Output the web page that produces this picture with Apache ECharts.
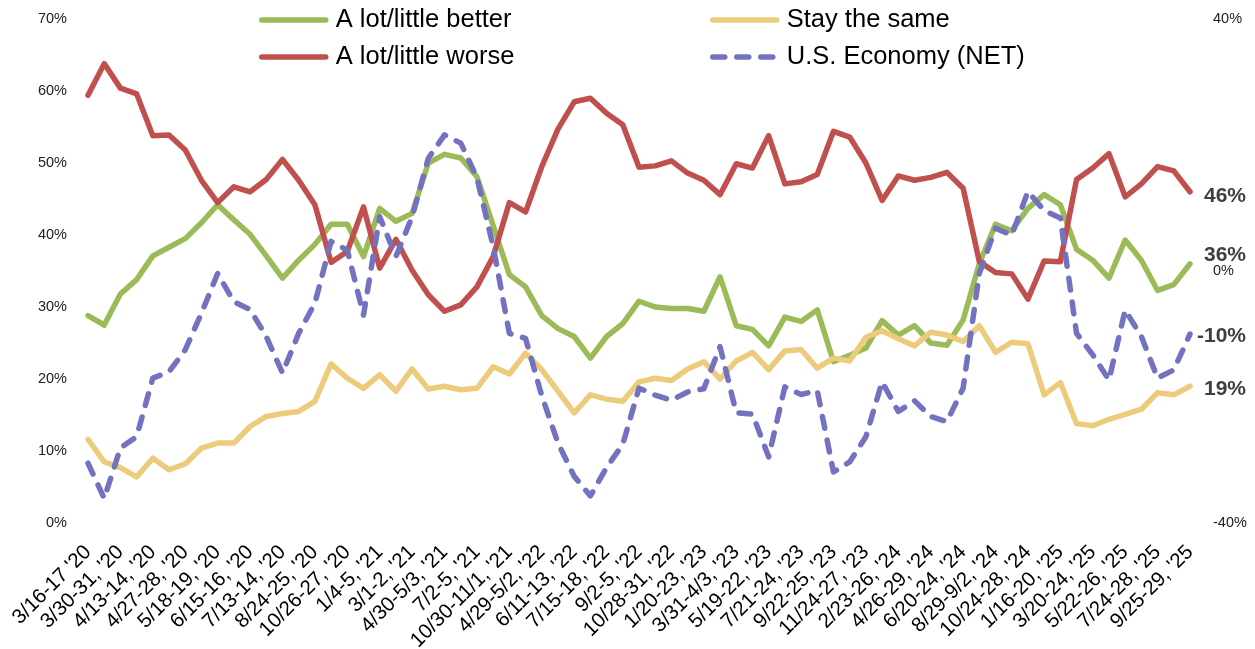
<!DOCTYPE html>
<html>
<head>
<meta charset="utf-8">
<script src="https://cdn.jsdelivr.net/npm/echarts@6/dist/echarts.min.js"></script>
<style>
  html, body { margin: 0; padding: 0; background: #ffffff; }
  #chart { width: 1255px; height: 649px; }
</style>
</head>
<body>
<div id="chart"></div>
<script>
// Survey wave labels (every other wave is labelled on the axis)
const tickLabels = [
  "3/16-17 '20", "3/30-31, '20", "4/13-14, '20", "4/27-28, '20", "5/18-19, '20",
  "6/15-16, '20", "7/13-14, '20", "8/24-25, '20", "10/26-27, '20", "1/4-5, '21",
  "3/1-2, '21", "4/30-5/3, '21", "7/2-5, '21", "10/30-11/1, '21", "4/29-5/2, '22",
  "6/11-13, '22", "7/15-18, '22", "9/2-5, '22", "10/28-31, '22", "1/20-23, '23",
  "3/31-4/3, '23", "5/19-22, '23", "7/21-24, '23", "9/22-25, '23", "11/24-27, '23",
  "2/23-26, '24", "4/26-29, '24", "6/20-24, '24", "8/29-9/2, '24", "10/24-28, '24",
  "1/16-20, '25", "3/20-24, '25", "5/22-26, '25", "7/24-28, '25", "9/25-29, '25"
];

// Share saying the economy will get a lot/little better (%)
const better = [
  28.8, 27.5, 31.8, 33.8, 37.1, 38.3, 39.5, 41.7, 44.2, 42.1,
  40.1, 37.1, 34.0, 36.5, 38.7, 41.5, 41.5, 37.0, 43.7, 41.9,
  43.0, 50.0, 51.2, 50.7, 48.1, 41.3, 34.5, 32.8, 28.8, 27.0,
  25.9, 22.9, 25.9, 27.7, 30.8, 30.0, 29.8, 29.8, 29.4, 34.2,
  27.4, 26.9, 24.6, 28.6, 28.0, 29.6, 22.4, 23.3, 24.3, 28.1,
  26.1, 27.4, 25.0, 24.7, 28.2, 36.0, 41.5, 40.6, 43.7, 45.6,
  44.2, 38.0, 36.5, 34.0, 39.3, 36.5, 32.3, 33.1, 36
];

// Share saying it will get a lot/little worse (%)
const worse = [
  59.4, 63.8, 60.4, 59.6, 53.8, 53.9, 51.8, 47.6, 44.5, 46.7,
  46.0, 47.7, 50.5, 47.6, 44.2, 36.2, 37.7, 43.9, 35.4, 39.4,
  35.1, 31.7, 29.4, 30.3, 32.8, 37.0, 44.5, 43.2, 49.5, 54.7,
  58.5, 59.0, 56.9, 55.3, 49.4, 49.6, 50.3, 48.6, 47.6, 45.6,
  49.9, 49.3, 53.8, 47.1, 47.4, 48.4, 54.4, 53.6, 50.0, 44.8,
  48.2, 47.6, 48.0, 48.7, 46.5, 36.3, 34.8, 34.6, 31.1, 36.4,
  36.3, 47.7, 49.3, 51.3, 45.3, 47.1, 49.5, 48.9, 46
];

// Share saying it will stay the same (%)
const same = [
  11.6, 8.5, 7.7, 6.4, 9.0, 7.4, 8.2, 10.4, 11.1, 11.1,
  13.4, 14.8, 15.2, 15.5, 16.9, 22.1, 20.1, 18.7, 20.6, 18.3,
  21.4, 18.6, 19.0, 18.5, 18.7, 21.7, 20.7, 23.6, 21.3, 18.3,
  15.3, 17.8, 17.2, 16.9, 19.6, 20.1, 19.8, 21.4, 22.4, 20.0,
  22.5, 23.7, 21.3, 23.9, 24.1, 21.5, 22.9, 22.5, 25.8, 26.7,
  25.6, 24.6, 26.5, 26.1, 25.2, 27.4, 23.7, 25.1, 24.9, 17.8,
  19.5, 13.8, 13.5, 14.4, 15.1, 15.8, 18.1, 17.8, 19
];

// Net outlook for the U.S. economy (right axis, %)
const net = [
  -30.5, -36.1, -28.1, -26.3, -17.0, -16.0, -12.5, -6.7, -0.4, -4.9,
  -6.1, -10.4, -16.2, -9.9, -5.1, 4.7, 3.3, -7.0, 8.6, 2.3,
  8.6, 17.9, 21.6, 20.3, 14.8, 3.9, -9.9, -10.7, -19.8, -27.3,
  -32.6, -35.7, -31.2, -27.5, -18.6, -19.7, -20.5, -19.2, -18.7, -12.0,
  -22.5, -22.7, -29.5, -18.4, -19.6, -19.0, -31.9, -30.3, -26.3, -17.6,
  -22.3, -20.6, -23.1, -23.9, -18.6, -0.4, 6.8, 5.7, 12.6, 9.6,
  8.4, -9.9, -13.3, -17.3, -6.2, -10.4, -17.0, -15.7, -10
];

// One category per wave; unlabelled waves get an empty name
const categories = better.map((_, i) => (i % 2 === 0 ? tickLabels[i / 2] : ''));

const FONT = '"Liberation Sans", Arial, Helvetica, sans-serif';

function lineSeries(name, data, color, yAxisIndex, dashed, labelDist, labelPad) {
  return {
    name: name,
    type: 'line',
    data: data,
    yAxisIndex: yAxisIndex,
    symbol: 'none',
    showSymbol: false,
    smooth: false,
    lineStyle: {
      color: color,
      width: 5.5,
      type: dashed ? [12, 12] : 'solid',
      cap: 'round',
      join: 'round'
    },
    itemStyle: { color: color },
    emphasis: { disabled: true },
    endLabel: {
      show: true,
      distance: labelDist,
      formatter: function (p) { return '{v|' + p.value + '%}'; },
      rich: {
        v: {
          fontFamily: FONT,
          fontSize: 21,
          fontWeight: 'bold',
          color: '#3f3f3f',
          padding: labelPad
        }
      }
    }
  };
}

const legendCommon = {
  orient: 'vertical',
  itemWidth: 64,
  itemHeight: 25,
  itemGap: 11,
  selectedMode: false,
  textStyle: { fontFamily: FONT, fontSize: 25.5, color: '#000000', padding: [0, 0, 0, 5] },
  itemStyle: { opacity: 0 },
  lineStyle: { width: 5.5, cap: 'round' }
};

const chart = echarts.init(document.getElementById('chart'), null, { renderer: 'canvas' });

chart.setOption({
  animation: false,
  backgroundColor: '#ffffff',
  legend: [
    Object.assign({}, legendCommon, {
      left: 254, top: 2,
      data: ['A lot/little better', 'A lot/little worse']
    }),
    Object.assign({}, legendCommon, {
      left: 705, top: 2,
      data: ['Stay the same', 'U.S. Economy (NET)']
    })
  ],
  grid: {
    left: 88, right: 65, top: 19, bottom: 126,
    containLabel: false,
    outerBoundsMode: 'none'
  },
  xAxis: {
    type: 'category',
    data: categories,
    boundaryGap: false,
    axisLine: { show: false },
    axisTick: { show: false },
    splitLine: { show: false },
    axisLabel: {
      interval: 1,
      rotate: 45,
      margin: 26,
      hideOverlap: false,
      fontFamily: FONT,
      fontSize: 20.5,
      color: '#000000'
    }
  },
  yAxis: [
    {
      type: 'value',
      min: 0, max: 70, interval: 10,
      axisLine: { show: false },
      axisTick: { show: false },
      splitLine: { show: false },
      axisLabel: {
        formatter: '{value}%',
        margin: 21,
        fontFamily: FONT,
        fontSize: 14.5,
        color: '#222222'
      }
    },
    {
      type: 'value',
      min: -40, max: 40, interval: 40,
      position: 'right',
      axisLine: { show: false },
      axisTick: { show: false },
      splitLine: { show: false },
      axisLabel: {
        formatter: '{value}%',
        margin: 23,
        fontFamily: FONT,
        fontSize: 14.5,
        color: '#222222'
      }
    }
  ],
  series: [
    lineSeries('A lot/little better', better, '#9BBB59', 0, false, 14, [0, 0, 18, 0]),
    lineSeries('A lot/little worse', worse, '#C0504D', 0, false, 14, [8, 0, 0, 0]),
    lineSeries('Stay the same', same, '#ECCB7C', 0, false, 14, [6, 0, 0, 0]),
    lineSeries('U.S. Economy (NET)', net, '#7272C0', 1, true, 7, [4, 0, 0, 0])
  ]
});
</script>
</body>
</html>
